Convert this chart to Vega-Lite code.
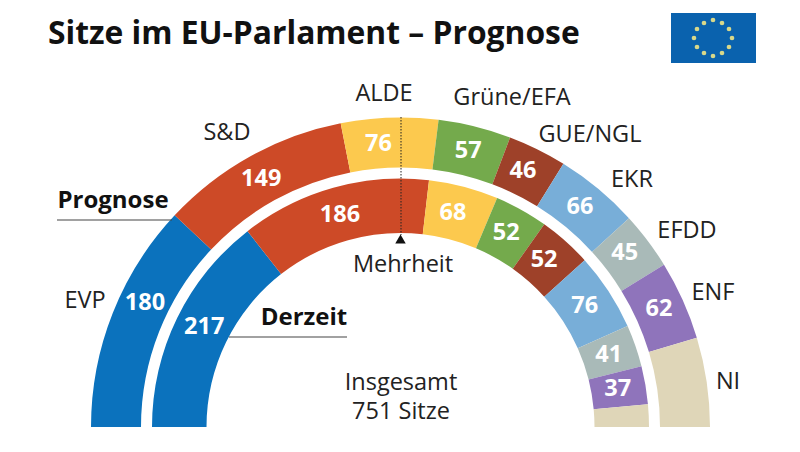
{
"$schema":"https://vega.github.io/schema/vega-lite/v6.json",
"width":800,"height":452,"padding":0,"autosize":{"type":"none"},
"background":"white",
"config":{"view":{"stroke":null}},
"datasets":{
"seats":[
{"ring":"Prognose","party":"EVP","seats":180,"idx":1,"at":108},
{"ring":"Prognose","party":"S&D","seats":149,"idx":2,"at":253},
{"ring":"Prognose","party":"ALDE","seats":76,"idx":3,"at":357},
{"ring":"Prognose","party":"Grüne/EFA","seats":57,"idx":4,"at":433},
{"ring":"Prognose","party":"GUE/NGL","seats":46,"idx":5,"at":482},
{"ring":"Prognose","party":"EKR","seats":66,"idx":6,"at":539},
{"ring":"Prognose","party":"EFDD","seats":45,"idx":7,"at":593},
{"ring":"Prognose","party":"ENF","seats":62,"idx":8,"at":649},
{"ring":"Prognose","party":"NI","seats":70,"idx":9,"at":null},
{"ring":"Derzeit","party":"EVP","seats":217,"idx":1,"at":113},
{"ring":"Derzeit","party":"S&D","seats":186,"idx":2,"at":309},
{"ring":"Derzeit","party":"ALDE","seats":68,"idx":3,"at":433},
{"ring":"Derzeit","party":"Grüne/EFA","seats":52,"idx":4,"at":495},
{"ring":"Derzeit","party":"GUE/NGL","seats":52,"idx":5,"at":545},
{"ring":"Derzeit","party":"EKR","seats":76,"idx":6,"at":612},
{"ring":"Derzeit","party":"EFDD","seats":41,"idx":7,"at":671},
{"ring":"Derzeit","party":"ENF","seats":37,"idx":8,"at":710},
{"ring":"Derzeit","party":"NI","seats":22,"idx":9,"at":null}
],
"names":[
{"t":"EVP","x":85,"y":301},{"t":"S&D","x":227,"y":133},{"t":"ALDE","x":384,"y":94},
{"t":"Grüne/EFA","x":512,"y":98},{"t":"GUE/NGL","x":590,"y":135},{"t":"EKR","x":632,"y":180},
{"t":"EFDD","x":687,"y":231},{"t":"ENF","x":713,"y":293},{"t":"NI","x":728,"y":382},
{"t":"Mehrheit","x":403,"y":265},{"t":"Insgesamt","x":401,"y":383},{"t":"751 Sitze","x":401,"y":412}
],
"bold":[{"t":"Prognose","x":113,"y":201},{"t":"Derzeit","x":304,"y":318}],
"rules":[{"x":57,"x2":172,"y":220},{"x":229,"x2":347,"y":337}],
"stars":[{"x":713,"y":20},{"x":722,"y":23},{"x":729,"y":29},{"x":732,"y":38},{"x":729,"y":47},{"x":722,"y":53},{"x":713,"y":56},{"x":704,"y":53},{"x":697,"y":47},{"x":694,"y":38},{"x":697,"y":29},{"x":704,"y":23}]
},
"data":{"name":"seats"},
"layer":[
{"transform":[{"filter":"datum.ring==='Prognose'"}],
 "mark":{"type":"arc","outerRadius":309.5,"innerRadius":259.5},
 "encoding":{
  "x":{"datum":400.5,"type":"quantitative","scale":{"domain":[0,800],"range":[0,800],"nice":false,"zero":false},"axis":null},
  "y":{"datum":427,"type":"quantitative","scale":{"domain":[0,452],"range":[0,452],"nice":false,"zero":false},"axis":null},
  "theta":{"field":"seats","type":"quantitative","stack":true,"scale":{"domain":[0,751],"range":[-1.5708,1.5708]}},
  "order":{"field":"idx"},
  "color":{"field":"party","type":"nominal","legend":null,"scale":{"domain":["EVP","S&D","ALDE","Grüne/EFA","GUE/NGL","EKR","EFDD","ENF","NI"],"range":["#0b72bd","#cd4a27","#fcc94e","#74aa4c","#9e4129","#78aed8","#a9bab8","#8f74bb","#dfd6b8"]}}
 }},
{"transform":[{"filter":"datum.ring==='Derzeit'"}],
 "mark":{"type":"arc","outerRadius":248.5,"innerRadius":194},
 "encoding":{
  "x":{"datum":400.5,"type":"quantitative"},
  "y":{"datum":427,"type":"quantitative"},
  "theta":{"field":"seats","type":"quantitative","stack":true},
  "order":{"field":"idx"},
  "color":{"field":"party","type":"nominal"}
 }},
{"transform":[{"filter":"datum.ring==='Prognose' && datum.at!=null"}],
 "mark":{"type":"text","radius":284,"font":"Open Sans","fontWeight":"bold","fontSize":23.5,"fill":"white","align":"center","baseline":"middle"},
 "encoding":{
  "x":{"datum":400.5,"type":"quantitative"},
  "y":{"datum":427,"type":"quantitative"},
  "theta":{"field":"at","type":"quantitative"},
  "text":{"field":"seats"}
 }},
{"transform":[{"filter":"datum.ring==='Derzeit' && datum.at!=null"}],
 "mark":{"type":"text","radius":220.5,"font":"Open Sans","fontWeight":"bold","fontSize":23.5,"fill":"white","align":"center","baseline":"middle"},
 "encoding":{
  "x":{"datum":400.5,"type":"quantitative"},
  "y":{"datum":427,"type":"quantitative"},
  "theta":{"field":"at","type":"quantitative"},
  "text":{"field":"seats"}
 }},
{"data":{"name":"names"},
 "mark":{"type":"text","font":"Open Sans","fontSize":23.5,"fill":"#222","align":"center","baseline":"middle"},
 "encoding":{"x":{"field":"x","type":"quantitative"},"y":{"field":"y","type":"quantitative"},"text":{"field":"t"}}},
{"data":{"name":"bold"},
 "mark":{"type":"text","font":"Open Sans","fontWeight":"bold","fontSize":24,"fill":"#111","align":"center","baseline":"middle"},
 "encoding":{"x":{"field":"x","type":"quantitative"},"y":{"field":"y","type":"quantitative"},"text":{"field":"t"}}},
{"data":{"name":"rules"},
 "mark":{"type":"rule","stroke":"#444","strokeWidth":1.2},
 "encoding":{"x":{"field":"x","type":"quantitative"},"x2":{"field":"x2"},"y":{"field":"y","type":"quantitative"}}},
{"data":{"values":[{"x":401,"y":117,"y2":235}]},
 "mark":{"type":"rule","stroke":"#222","strokeWidth":1,"strokeDash":[1.5,1.5]},
 "encoding":{"x":{"field":"x","type":"quantitative"},"y":{"field":"y","type":"quantitative"},"y2":{"field":"y2"}}},
{"data":{"values":[{"x":400.5,"y":239}]},
 "mark":{"type":"point","shape":"triangle-up","filled":true,"fill":"#111","opacity":1,"size":110},
 "encoding":{"x":{"field":"x","type":"quantitative"},"y":{"field":"y","type":"quantitative"}}},
{"data":{"values":[{"x":671,"x2":756,"y":13,"y2":63}]},
 "mark":{"type":"rect","fill":"#0a62ae"},
 "encoding":{"x":{"field":"x","type":"quantitative"},"x2":{"field":"x2"},"y":{"field":"y","type":"quantitative"},"y2":{"field":"y2"}}},
{"data":{"name":"stars"},
 "mark":{"type":"point","shape":"circle","filled":true,"fill":"#d8d88a","opacity":1,"size":22},
 "encoding":{"x":{"field":"x","type":"quantitative"},"y":{"field":"y","type":"quantitative"}}},
{"data":{"values":[{"t":"Sitze im EU-Parlament – Prognose","x":48,"y":34}]},
 "mark":{"type":"text","font":"Open Sans","fontWeight":"bold","fontSize":31.8,"fill":"#111","align":"left","baseline":"middle"},
 "encoding":{"x":{"field":"x","type":"quantitative"},"y":{"field":"y","type":"quantitative"},"text":{"field":"t"}}}
]
}
